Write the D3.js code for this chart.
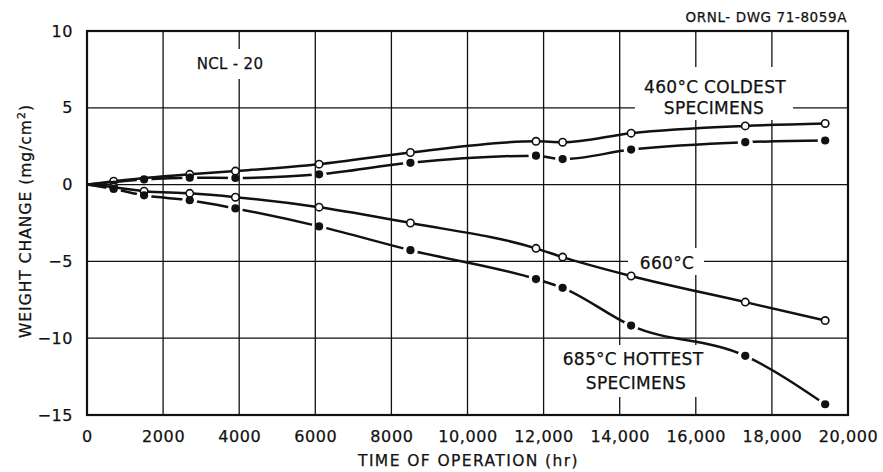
<!DOCTYPE html>
<html>
<head>
<meta charset="utf-8">
<script src="https://cdn.jsdelivr.net/npm/d3@7/dist/d3.min.js"></script>
<style>
  html, body { margin: 0; padding: 0; background: #fff; }
  svg { display: block; font-family: "DejaVu Sans", sans-serif; }
  text { stroke: #111; stroke-width: 0.25px; }
</style>
</head>
<body>
<svg id="chart" width="883" height="472"></svg>
<script>
// Exposure time of each weighing (hr)
const hours = [0, 700, 1500, 2700, 3900, 6100, 8500, 11800, 12500, 14300, 17300, 19400];

// Weight change (mg/cm²); null = no measurement plotted
const coldOpen   = [0, 0.22, null, 0.67, 0.88, 1.33, 2.09, 2.82, 2.76, 3.35, 3.82, 3.98];
const coldFilled = [0, null, 0.34, 0.45, 0.43, 0.67, 1.42, 1.88, 1.66, 2.28, 2.76, 2.87];
const mid660     = [0, -0.17, -0.43, -0.57, -0.82, -1.47, -2.50, -4.15, -4.72, -5.95, -7.65, -8.85];
const hot685     = [0, -0.28, -0.70, -1.02, -1.55, -2.72, -4.27, -6.15, -6.72, -9.18, -11.15, -14.30];

const xTicks = [0, 2000, 4000, 6000, 8000, 10000, 12000, 14000, 16000, 18000, 20000];
const xTickLabels = ["0", "2000", "4000", "6000", "8000", "10,000", "12,000", "14,000", "16,000", "18,000", "20,000"];
const yTicks = [-15, -10, -5, 0, 5, 10];
const yTickLabels = ["\u221215", "\u221210", "\u22125", "0", "5", "10"];

const svg = d3.select("#chart");
const plotL = 87, plotR = 848, plotT = 31, plotB = 415;

const x = d3.scaleLinear().domain([0, 20000]).range([plotL, plotR]);
const y = d3.scaleLinear().domain([-15, 10]).range([plotB, plotT]);

const ink = "#111";

// grid
const grid = svg.append("g").attr("stroke", ink).attr("stroke-width", 1.3);
grid.selectAll("line.v").data(xTicks.slice(1, -1)).join("line")
  .attr("x1", d => x(d)).attr("x2", d => x(d)).attr("y1", plotT).attr("y2", plotB);
grid.selectAll("line.h").data(yTicks.slice(1, -1)).join("line")
  .attr("x1", plotL).attr("x2", plotR).attr("y1", d => y(d)).attr("y2", d => y(d));

// frame
svg.append("rect").attr("x", plotL).attr("y", plotT)
  .attr("width", plotR - plotL).attr("height", plotB - plotT)
  .attr("fill", "none").attr("stroke", ink).attr("stroke-width", 2.2);

// axes
const xAxis = svg.append("g").attr("transform", `translate(0,${plotB})`)
  .call(d3.axisBottom(x).tickValues(xTicks).tickFormat((d, i) => xTickLabels[i]).tickSize(0).tickPadding(16));
const yAxis = svg.append("g").attr("transform", `translate(${plotL},0)`)
  .call(d3.axisLeft(y).tickValues(yTicks).tickFormat((d, i) => yTickLabels[i]).tickSize(0).tickPadding(14));
[xAxis, yAxis].forEach(g => {
  g.select(".domain").remove();
  g.selectAll("text").attr("font-family", "DejaVu Sans").attr("font-size", 16)
    .attr("fill", ink).attr("letter-spacing", 0.6);
});

// axis titles
svg.append("text").attr("x", (plotL + plotR) / 2 + 1).attr("y", 466)
  .attr("text-anchor", "middle").attr("font-size", 15.5).attr("letter-spacing", 1.4).attr("fill", ink)
  .text("TIME OF OPERATION (hr)");

const yt = svg.append("text").attr("transform", "translate(31,221) rotate(-90)")
  .attr("text-anchor", "middle").attr("font-size", 15.5).attr("letter-spacing", 1).attr("fill", ink);
yt.append("tspan").text("WEIGHT CHANGE  (mg/cm");
yt.append("tspan").attr("dy", -6).attr("font-size", 11).text("2");
yt.append("tspan").attr("dy", 6).text(")");

svg.append("text").attr("x", 847).attr("y", 22).attr("text-anchor", "end")
  .attr("font-size", 13.5).attr("letter-spacing", 0.6).attr("fill", ink)
  .text("ORNL- DWG 71-8059A");

// in-plot labels on white panels
const notes = [
  { box: [196, 49, 68, 30], lines: [["NCL - 20", 230, 69]], size: 15 },
  { box: [635, 67, 158, 53], lines: [["460°C COLDEST", 715, 93], ["SPECIMENS", 714, 114]], size: 17 },
  { box: [628, 248, 76, 27], lines: [["660°C", 667, 269]], size: 17 },
  { box: [558, 345, 150, 52], lines: [["685°C HOTTEST", 633, 365], ["SPECIMENS", 636, 389]], size: 17 }
];
notes.forEach(n => {
  svg.append("rect").attr("x", n.box[0]).attr("y", n.box[1])
    .attr("width", n.box[2]).attr("height", n.box[3]).attr("fill", "#fff");
  n.lines.forEach(l => {
    svg.append("text").attr("x", l[1]).attr("y", l[2]).attr("text-anchor", "middle")
      .attr("font-size", n.size).attr("letter-spacing", 0.3).attr("fill", ink).text(l[0]);
  });
});

// series
const series = [
  { id: "coldOpen", values: coldOpen, filled: false },
  { id: "coldFilled", values: coldFilled, filled: true },
  { id: "mid660", values: mid660, filled: false },
  { id: "hot685", values: hot685, filled: true }
];

const line = d3.line().x(d => x(d[0])).y(d => y(d[1])).curve(d3.curveMonotoneX);
const defs = svg.append("defs");

series.forEach(s => {
  const pts = hours.map((h, i) => [h, s.values[i]]).filter(d => d[1] !== null);
  const marks = pts.filter(d => d[0] > 0);
  const path = svg.append("path").datum(pts).attr("d", line)
    .attr("fill", "none").attr("stroke", ink).attr("stroke-width", 2.5)
    .attr("stroke-linejoin", "round");
  if (s.filled) {
    // solid-dot curves are broken open around each dot
    const m = defs.append("mask").attr("id", "gap-" + s.id).attr("maskUnits", "userSpaceOnUse");
    m.append("rect").attr("x", 0).attr("y", 0).attr("width", 883).attr("height", 472).attr("fill", "#fff");
    m.selectAll("circle").data(marks).join("circle")
      .attr("cx", d => x(d[0])).attr("cy", d => y(d[1])).attr("r", 7.5).attr("fill", "#000");
    path.attr("mask", `url(#gap-${s.id})`);
  }
  svg.append("g").selectAll("circle").data(marks).join("circle")
    .attr("cx", d => x(d[0])).attr("cy", d => y(d[1]))
    .attr("r", s.filled ? 4.1 : 3.7)
    .attr("fill", s.filled ? ink : "#fff")
    .attr("stroke", ink).attr("stroke-width", s.filled ? 0 : 1.6);
});
</script>
</body>
</html>
